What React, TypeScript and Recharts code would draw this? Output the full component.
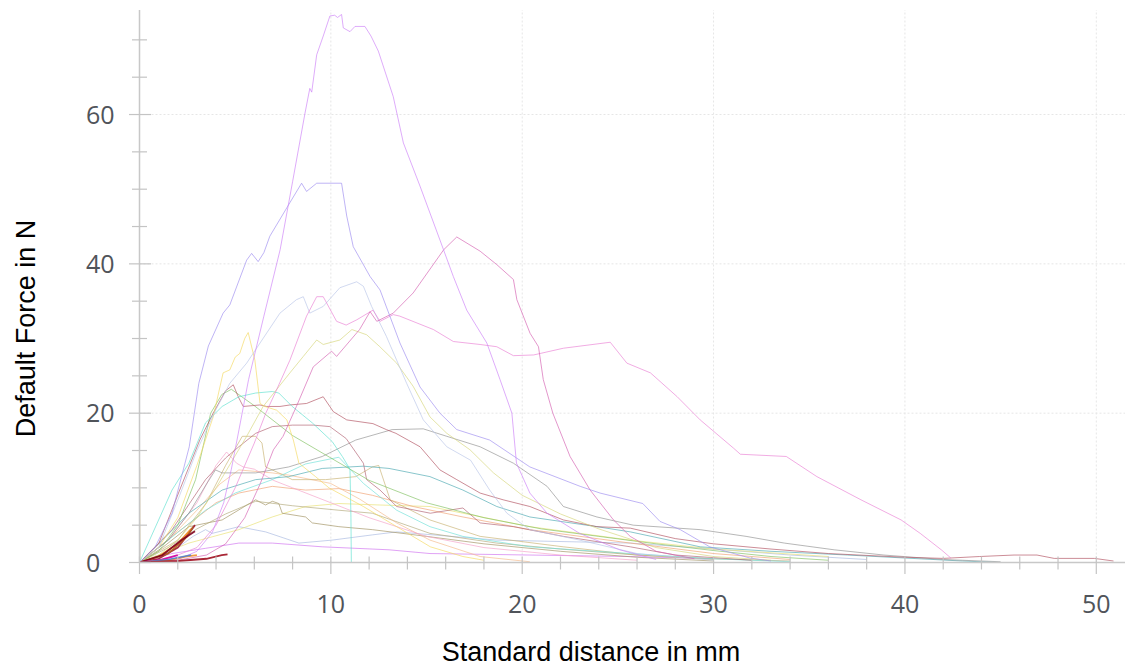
import React from 'react';
import { LineChart, Line, XAxis, YAxis, ReferenceLine } from 'recharts';

type P = [number, number];

const xTicks = [0, 2, 4, 6, 8, 10, 12, 14, 16, 18, 20, 22, 24, 26, 28, 30, 32, 34, 36, 38, 40, 42, 44, 46, 48, 50];
const yTicks = [0, 5, 10, 15, 20, 25, 30, 35, 40, 45, 50, 55, 60, 65, 70];
const xGrid = [10, 20, 30, 40, 50];
const yGrid = [20, 40, 60];

const curveA: P[] = [[0,0],[2,0.4],[3,1.5],[3.8,4],[4.4,8],[4.8,12.5],[5.2,17.8],[5.7,24.5],[6.5,33],[7.35,41.9],[8,51],[8.65,60.2],[8.9,63.5],[9.0,63],[9.26,68],[9.6,70.5],[9.95,73.2],[10.2,73.3],[10.35,73],[10.56,73.4],[10.65,71.6],[11,71.1],[11.26,71.8],[11.78,71.8],[12.1,70.5],[12.48,68.5],[13.26,62.4],[13.79,56.2],[14.66,50.4],[15.7,43.2],[16.4,38.3],[17.1,33.8],[18.15,29.4],[18.84,24.5],[19.46,20],[19.7,13.3],[20.4,9.3],[21.3,6.6],[23,3.9],[25.1,1.7],[27,0.4]];
const curveB: P[] = [[0,0],[0.8,2],[1.7,6.6],[2.6,15.5],[3.1,24],[3.6,29],[4.37,33.4],[4.72,34.5],[5.6,40.5],[5.86,41.4],[6.2,40.3],[6.5,41.5],[6.81,43.7],[7.86,48.2],[8.47,50.8],[8.73,49.7],[9.26,50.8],[10.56,50.8],[10.83,46.4],[11.17,42.3],[12.05,38.3],[12.57,36.5],[13.61,29.4],[14.66,23.5],[15.7,20],[16.58,17.8],[18.3,16.4],[20.4,12.8],[23.03,10.2],[24.07,9.3],[26.3,7.9],[27.2,5.5],[28.26,4.4],[29.8,2.1],[31.9,0.6],[33,0.2]];
const curveC: P[] = [[0,0],[2,0.3],[3.5,1],[4.5,2.5],[5.5,6],[6.3,10.5],[7.0,15.1],[7.5,16.9],[8.2,20.9],[9.08,26.2],[10.04,28.3],[10.3,27.6],[11.5,31.2],[12.05,33.6],[12.4,32.3],[13.26,33.4],[14.3,36.1],[15.9,41.9],[16.58,43.6],[17.8,41.7],[18.67,39.9],[19.54,37.9],[19.72,35.2],[20.41,30.7],[20.85,28.9],[21.1,24.5],[21.6,20],[22.5,14.2],[23.55,9.7],[24.77,5.7],[25.64,3.5],[27,1.5],[29,0.5]];
const curveD: P[] = [[0,0],[1.5,0.5],[3,2],[4,5],[5,10],[6,16],[6.6,20],[7.16,23.1],[7.86,27.1],[8.73,33],[9.26,35.6],[9.6,35.6],[10.3,32.3],[10.8,31.8],[11.35,32.5],[12.2,33.8],[12.57,32.3],[13.26,33.2],[13.6,33],[15.36,31.2],[16.4,29.6],[17.8,29.2],[18.67,28.9],[19.54,27.7],[20.6,27.8],[22.15,28.7],[24.6,29.5],[25.47,26.7],[26.7,25.4],[28.1,22.2],[29.3,19.1],[31.05,15.3],[31.4,14.5],[33.8,14.2],[35.4,11.5],[37.7,8.4],[39.8,5.7],[40.8,3.9],[41.9,1.7],[42.4,0.6]];
const curveE: P[] = [[0,0],[1,2],[2.1,9],[3,15],[4,20.5],[4.72,24],[5.6,26.7],[6.3,29.4],[7.34,33.4],[8.2,35.2],[8.56,35.6],[8.9,33.4],[9.6,34.3],[10.47,36.8],[11.35,37.6],[11.7,37],[12.13,34.3],[12.9,30.3],[13.96,24],[14.83,19.1],[16.06,15.5],[17.3,13.7],[18.3,9.7],[19.2,6.6],[20.4,4.4],[23,3],[26,1.2],[30,0.3]];
const curveF: P[] = [[0,0],[1,1],[2,3],[3,6],[4,10],[5.6,16.9],[6.46,20.9],[7.86,25.4],[8.56,27.6],[9.26,29.8],[9.6,29.2],[10.47,29.8],[11.1,31.2],[11.87,30.5],[12.56,28.9],[13.44,26.7],[14.3,23.6],[15.18,19.5],[16.06,17.3],[17.27,15.1],[18.5,12],[20,9],[22,6.5],[24,4.5],[27,2],[30,0.8],[33,0.3]];
const curveG: P[] = [[0,0],[1,2],[2,6],[3,13],[3.85,19.5],[4.37,25.4],[4.72,25.8],[5.0,27.5],[5.24,28],[5.5,30],[5.68,30.8],[6.03,27.1],[6.3,21.3],[6.55,20.9],[7.17,20.4],[7.7,19.1],[8.04,16.4],[8.33,13.3],[9.2,11.5],[9.9,10],[11.7,7.5],[13.44,4.8],[15.2,2.1],[16.9,0.8],[18,0.3]];
const curveH: P[] = [[0,0],[1.7,9.7],[2.58,13.3],[3.45,18.7],[4.32,20.9],[5.19,22.2],[6.07,22.7],[6.94,22.9],[7.28,22.7],[7.98,20.9],[9.03,18.7],[10.07,16.2],[10.6,14.2],[11.0,12.5],[11.05,6],[11.07,0]];
const curveI: P[] = [[0,0],[1,2.5],[2.1,9.7],[3.15,16.4],[3.85,20],[4.5,23],[4.9,23.8],[5.16,22.2],[5.42,20.9],[6.29,21.1],[6.64,20.9],[7.34,20.9],[7.86,21.1],[8.73,21.3],[9.6,22.2],[10.13,20.2],[10.83,19.1],[12.2,18.6],[12.9,17.8],[13.4,17.3],[14.66,15.5],[15.7,12.4],[16.58,11.1],[17.8,9.3],[19.0,8.4],[20.4,7.5],[22.15,5.7],[23.9,4.8],[25.65,4.6],[28,3.2],[30,2.5],[33,1.8],[36,1.2],[40,0.7],[42,0.55],[43.9,0.8],[45.7,1],[46.9,1],[47.8,0.55],[49.9,0.55],[50.9,0.2]];
const curveJ: P[] = [[0,0],[1.7,4.4],[3.45,11.1],[4.5,14],[5.19,15.5],[6.07,17.3],[6.94,18.2],[8,18.4],[9.08,18.4],[9.95,18.2],[10.8,16.6],[11.7,13.3],[11.87,11.1],[12.57,9.7],[13.44,7.5],[15.2,6.6],[16.9,7.3],[17.8,5.3],[19.54,4.8],[22.15,3.5],[25.65,2.1],[28,1],[32,0.3]];
const curveK: P[] = [[0,0],[1.5,3],[2.58,6.6],[3.5,10.5],[3.97,12.4],[4.32,12],[6.07,12],[7.8,12.8],[9.55,14.2],[11.3,16.4],[13.2,17.8],[14.83,17.9],[16.06,16.9],[17.8,15.5],[19.54,13.3],[21.3,10.2],[22.15,7.5],[23.9,6.1],[25.8,5],[29.3,4.4],[31.7,3.5],[33.7,2.6],[36.3,1.7],[38.9,1],[42,0.4],[45,0.1]];
const curveL: P[] = [[0,0],[1.2,3],[2.58,6.6],[4.32,9.7],[6.07,11.1],[7.8,11.5],[9.55,12.6],[11.7,12.9],[13.04,12.6],[15.18,11.5],[16.9,9.7],[18.67,7.5],[20.4,6.1],[23.9,4.8],[25.65,4.1],[29.3,2.1],[33,1.5],[37,1],[40,0.6],[43,0.2],[44.9,0]];
const curveM: P[] = [[0,0],[1.5,3],[3.45,7],[5,9.3],[6.94,11.1],[8.68,13.2],[10.42,14.1],[11.7,10.6],[13.44,7],[15.18,4.8],[16.9,3.5],[20.4,2.1],[25.65,1.2],[30,0.5],[34,0.1]];
const curveN: P[] = [[0,0],[1.7,3.5],[3,6],[4,8],[5.19,9.3],[6.94,10.2],[8.68,9.7],[10.42,9.9],[12.17,9],[14.3,7.5],[16.9,6.1],[20.4,4.4],[25.65,2.6],[30,1.2],[34,0.4]];
const curveO: P[] = [[0,0],[1.5,3],[3,7],[4.2,10.5],[5.19,12.4],[6.94,12],[7.8,11.7],[9.98,10.6],[11.5,8.5],[13.44,5.3],[15.18,3],[17.8,0.8],[20.4,0.1]];
const curveP: P[] = [[0,0],[1.2,2],[2.58,4.8],[4.32,5.7],[6.07,8.4],[6.59,7.7],[6.94,8.2],[7.28,7.9],[7.46,6.6],[8.68,6.1],[9.03,5.3],[10.42,4.8],[12.17,4.4],[15,3.5],[18,2.5],[22,1.5],[26,0.7],[30,0.2]];
const curveP2: P[] = [[0,0],[1.5,2],[3,4.5],[4.5,6.5],[6.07,8.2],[8,7.6],[10.42,7],[12.17,6.6],[15.18,3.9],[18.67,2.6],[22,1.8],[26,1],[30,0.5],[34,0.2]];
const curveQ: P[] = [[0,0],[1,0.8],[2,2],[2.8,3.5],[3.45,4.4],[3.8,3.9],[5.19,4.8],[6.59,4.1],[8.33,2.6],[10.07,3],[12.17,3.7],[13.44,4.1],[18.67,3],[25.65,2.6],[30,1.8],[34,1],[38,0.4]];
const curveR: P[] = [[0,0],[1.7,1.2],[3.45,1.9],[5.19,2.6],[6.94,2.6],[9.55,2.1],[13.04,1.7],[15.18,1.2],[25.65,0.8],[30,0.5]];
const curveS: P[] = [[0,0],[1.2,1.2],[2.58,2.6],[5.19,4.4],[6.94,6.1],[8.68,7.5],[10.42,7.9],[12.57,7.7],[15.18,7.5],[16.9,6.6],[20.4,4.8],[25.65,3],[30,1.8],[36,0.8]];
const curveT: P[] = [[0,0],[2,3],[3.5,8],[4.5,13],[5.37,16.9],[6.07,16.9],[6.4,16],[6.59,12.8],[7.28,12],[7.98,11.1],[9.73,11.1],[11.3,11.5],[12.17,12.8],[12.5,13],[13.1,8.4],[15.18,5.7],[17.8,3.5],[22.15,2.1],[26,1],[30,0.4]];
const curveU: P[] = [[0,0],[1.5,3],[3,8],[4,13],[4.55,14.8],[5.07,13.3],[5.42,12.8],[6,12.5],[7,11],[8,10],[10,8],[12,6],[15,3.5],[18,2],[22,1],[26,0.3]];
const curveV: P[] = [[0,0],[1,1.5],[2,5],[2.93,11.1],[3.72,20],[4.3,22.5],[4.8,23.2],[6,21],[8,17],[10,14],[12,11],[15,8],[18,6],[21,4.5],[24,3.5],[27,2.5],[30,1.6],[33,0.8],[36,0.3]];
const curveW: P[] = [[0,0],[0.01,12.8],[0.03,0]];
const short1: P[] = [[0,0],[1,0.5],[2,2],[2.6,4],[2.9,5]];
const short2: P[] = [[0,0],[1,0.8],[2,2.5],[2.7,4.5]];
const short3: P[] = [[0,0],[1.5,1.2],[2.5,3.5],[2.8,4.8]];
const short4: P[] = [[0,0],[1.2,1],[2.2,3],[2.9,4.2]];
const tiny1: P[] = [[0,0],[1,0.3],[2,1.0]];
const tiny2: P[] = [[0,0],[1.5,0.3],[2.4,0.8],[3.0,1.0]];
const tiny3: P[] = [[0,0],[1.5,0.4],[2.7,1.0]];
const tiny4: P[] = [[0,0],[2,0.2],[3.5,0.5],[4.3,1.0],[4.6,1.1]];

const series: { d: P[]; c: string; w?: number; o?: number }[] = [
  { d: curveW, c: '#c8b080' },
  { d: curveR, c: '#d070f0' },
  { d: curveQ, c: '#a8b8e0' },
  { d: curveS, c: '#e8e070' },
  { d: curveP, c: '#a09060' },
  { d: curveP2, c: '#b0a878' },
  { d: curveN, c: '#f0a070' },
  { d: curveO, c: '#f5b888' },
  { d: curveU, c: '#f4a0c8' },
  { d: curveT, c: '#c8b070' },
  { d: curveM, c: '#6fe0d8' },
  { d: curveL, c: '#4aa8b0' },
  { d: curveK, c: '#909090' },
  { d: curveJ, c: '#b06070' },
  { d: curveV, c: '#80c060' },
  { d: curveI, c: '#b05060' },
  { d: curveH, c: '#5ee0d0' },
  { d: curveG, c: '#f5d860' },
  { d: curveF, c: '#d6d67a' },
  { d: curveE, c: '#b8c4e8' },
  { d: curveD, c: '#ea80d4' },
  { d: curveC, c: '#d460b0' },
  { d: curveB, c: '#9d8cf0' },
  { d: curveA, c: '#cc80f8' },
  { d: short1, c: '#a01830', w: 1.8, o: 0.9 },
  { d: short2, c: '#f08820', w: 1.8, o: 0.9 },
  { d: short3, c: '#b06020', w: 1.6, o: 0.9 },
  { d: short4, c: '#800020', w: 1.8, o: 0.9 },
  { d: tiny1, c: '#d000a0', w: 1.8, o: 0.9 },
  { d: tiny2, c: '#f09030', w: 1.8, o: 0.9 },
  { d: tiny3, c: '#5080d0', w: 1.6, o: 0.9 },
  { d: tiny4, c: '#a01020', w: 1.8, o: 0.9 },
];

const tickFont = "'Open Sans', 'Noto Sans', sans-serif";

const XTick = (props: any) => {
  const { x, y, payload } = props;
  const major = payload.value % 10 === 0;
  return (
    <g>
      <line x1={x} x2={x} y1={y - 6} y2={y + (major ? 11.5 : 7)} stroke="#c4c4c4" strokeWidth={1.2} />
      {major && (
        <text x={x} y={y + 50.5} textAnchor="middle" fontSize={25} fill="#50545a" fontFamily={tickFont}>
          {payload.value}
        </text>
      )}
    </g>
  );
};

const YTick = (props: any) => {
  const { x, y, payload } = props;
  const major = payload.value % 20 === 0;
  return (
    <g>
      <line x1={x - (major ? 10.5 : 7.5)} x2={x + (major ? 11.5 : 7.5)} y1={y} y2={y} stroke="#c4c4c4" strokeWidth={1.2} />
      {major && (
        <text x={x - 53.5} y={y + 9} textAnchor="start" fontSize={25} fill="#50545a" fontFamily={tickFont}>
          {payload.value}
        </text>
      )}
    </g>
  );
};

export default function App() {
  return (
    <div style={{ position: 'absolute', left: 0, top: 0, width: 1126, height: 671, background: '#fff' }}>
      <LineChart width={1126} height={671} margin={{ top: 10, right: 1, bottom: 0, left: 39.5 }}>
        <XAxis
          type="number"
          dataKey="x"
          domain={[0, 51.5]}
          ticks={xTicks}
          interval={0}
          tickSize={0}
          tickMargin={0}
          tickLine={false}
          tick={<XTick />}
          axisLine={{ stroke: '#c8c8c8', strokeWidth: 1.5 }}
          height={108.5}
          allowDataOverflow
        />
        <YAxis
          type="number"
          dataKey="y"
          domain={[0, 74]}
          ticks={yTicks}
          interval={0}
          tickSize={0}
          tickMargin={0}
          tickLine={false}
          tick={<YTick />}
          axisLine={{ stroke: '#c8c8c8', strokeWidth: 1.5 }}
          width={100}
          allowDataOverflow
        />
        {xGrid.map((v) => (
          <ReferenceLine key={'gx' + v} x={v} stroke="#e6e6e6" strokeDasharray="2 2" />
        ))}
        {yGrid.map((v) => (
          <ReferenceLine key={'gy' + v} y={v} stroke="#e6e6e6" strokeDasharray="2 2" />
        ))}
        {series.map((s, i) => (
          <Line
            key={i}
            data={s.d.map(([x, y]) => ({ x, y }))}
            dataKey="y"
            type="linear"
            dot={false}
            activeDot={false}
            stroke={s.c}
            strokeWidth={s.w ?? 1}
            strokeOpacity={s.o ?? 0.65}
            isAnimationActive={false}
          />
        ))}
      </LineChart>
      <svg width={1126} height={671} style={{ position: 'absolute', left: 0, top: 0, pointerEvents: 'none' }}>
        <text x={591} y={661} textAnchor="middle" fontSize={27} fill="#000" fontFamily="'Liberation Sans', Arial, sans-serif">
          Standard distance in mm
        </text>
        <text
          x={0}
          y={0}
          transform="translate(35 328.5) rotate(-90)"
          textAnchor="middle"
          fontSize={27}
          fill="#000"
          fontFamily="'Liberation Sans', Arial, sans-serif"
        >
          Default Force in N
        </text>
      </svg>
    </div>
  );
}
